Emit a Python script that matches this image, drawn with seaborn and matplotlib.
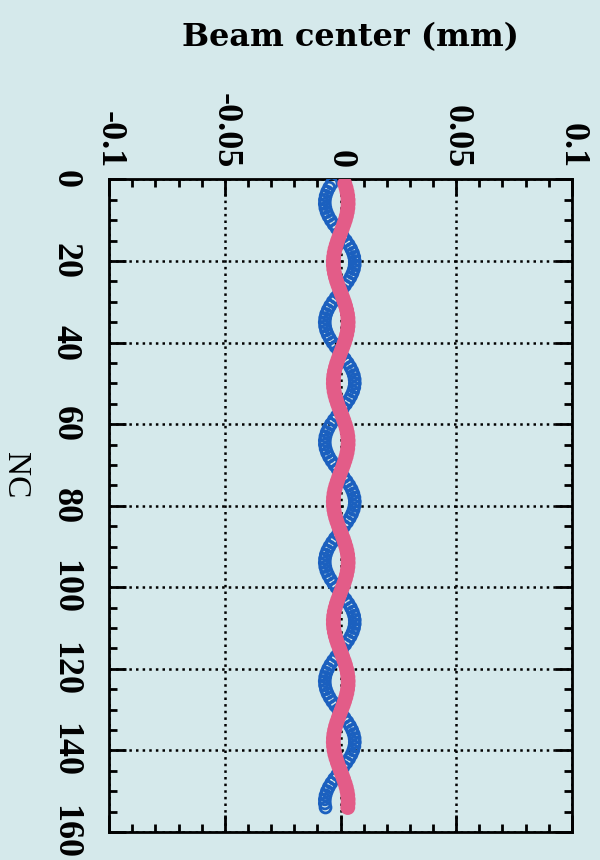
import matplotlib
matplotlib.use('Agg')
import matplotlib.pyplot as plt
import seaborn as sns
from matplotlib.ticker import MultipleLocator

# NC index and beam centre readings (mm) for the two series
nc = list(range(1, 155))

beam_blue = [
    -0.00383, -0.00491, -0.00578, -0.00640, -0.00674, -0.00678, -0.00653, -0.00600, -0.00521, -0.00419,
    -0.00300, -0.00168, -0.00031, 0.00108, 0.00240, 0.00359, 0.00461, 0.00540, 0.00593, 0.00618,
    0.00614, 0.00580, 0.00518, 0.00432, 0.00323, 0.00199, 0.00066, -0.00074, -0.00210, -0.00339,
    -0.00453, -0.00548, -0.00620, -0.00664, -0.00680, -0.00666, -0.00623, -0.00553, -0.00460, -0.00346,
    -0.00219, -0.00082, 0.00057, 0.00192, 0.00316, 0.00426, 0.00513, 0.00576, 0.00612, 0.00619,
    0.00596, 0.00544, 0.00466, 0.00366, 0.00247, 0.00116, -0.00022, -0.00160, -0.00292, -0.00413,
    -0.00516, -0.00596, -0.00651, -0.00677, -0.00675, -0.00642, -0.00582, -0.00497, -0.00390, -0.00267,
    -0.00133, 0.00006, 0.00143, 0.00272, 0.00387, 0.00484, 0.00556, 0.00602, 0.00620, 0.00608,
    0.00566, 0.00498, 0.00405, 0.00293, 0.00166, 0.00030, -0.00109, -0.00245, -0.00369, -0.00479,
    -0.00569, -0.00634, -0.00671, -0.00679, -0.00658, -0.00608, -0.00531, -0.00432, -0.00314, -0.00183,
    -0.00046, 0.00092, 0.00225, 0.00346, 0.00450, 0.00532, 0.00589, 0.00617, 0.00615, 0.00585,
    0.00526, 0.00443, 0.00337, 0.00214, 0.00081, -0.00058, -0.00195, -0.00324, -0.00441, -0.00538,
    -0.00613, -0.00661, -0.00680, -0.00669, -0.00629, -0.00562, -0.00471, -0.00360, -0.00233, -0.00098,
    0.00042, 0.00177, 0.00303, 0.00414, 0.00504, 0.00571, 0.00610, 0.00619, 0.00600, 0.00551,
    0.00476, 0.00378, 0.00261, 0.00131, -0.00006, -0.00144, -0.00278, -0.00400, -0.00505, -0.00588,
    -0.00646, -0.00676, -0.00677, -0.00648,
]

beam_pink = [
    0.00184, 0.00237, 0.00280, 0.00310, 0.00327, 0.00329, 0.00317, 0.00291, 0.00252, 0.00202,
    0.00143, 0.00078, 0.00010, -0.00058, -0.00123, -0.00181, -0.00232, -0.00271, -0.00297, -0.00309,
    -0.00307, -0.00290, -0.00260, -0.00217, -0.00164, -0.00103, -0.00037, 0.00031, 0.00099, 0.00162,
    0.00218, 0.00265, 0.00300, 0.00322, 0.00330, 0.00323, 0.00302, 0.00268, 0.00222, 0.00166,
    0.00103, 0.00036, -0.00033, -0.00099, -0.00161, -0.00214, -0.00258, -0.00289, -0.00306, -0.00309,
    -0.00298, -0.00273, -0.00234, -0.00185, -0.00126, -0.00062, 0.00006, 0.00074, 0.00139, 0.00198,
    0.00249, 0.00289, 0.00316, 0.00329, 0.00327, 0.00311, 0.00282, 0.00240, 0.00187, 0.00127,
    0.00061, -0.00008, -0.00075, -0.00138, -0.00195, -0.00243, -0.00279, -0.00301, -0.00310, -0.00304,
    -0.00283, -0.00250, -0.00204, -0.00149, -0.00086, -0.00019, 0.00049, 0.00116, 0.00177, 0.00231,
    0.00275, 0.00307, 0.00326, 0.00330, 0.00319, 0.00294, 0.00257, 0.00208, 0.00150, 0.00086,
    0.00018, -0.00050, -0.00115, -0.00175, -0.00226, -0.00267, -0.00295, -0.00308, -0.00308, -0.00293,
    -0.00264, -0.00223, -0.00170, -0.00110, -0.00044, 0.00024, 0.00091, 0.00155, 0.00212, 0.00260,
    0.00297, 0.00320, 0.00330, 0.00325, 0.00305, 0.00272, 0.00227, 0.00172, 0.00110, 0.00043,
    -0.00025, -0.00092, -0.00154, -0.00209, -0.00253, -0.00286, -0.00305, -0.00310, -0.00300, -0.00276,
    -0.00239, -0.00191, -0.00133, -0.00069, -0.00002, 0.00066, 0.00132, 0.00192, 0.00244, 0.00285,
    0.00313, 0.00328, 0.00328, 0.00314,
]

x_ticks = [-0.1, -0.05, 0, 0.05, 0.1]
x_tick_labels = ['-0.1', '-0.05', '0', '0.05', '0.1']
y_ticks = [0, 20, 40, 60, 80, 100, 120, 140, 160]

bg = '#d5e9eb'
blue = '#1b60bf'
pink = '#e35c88'

sns.set_theme(style='ticks')
plt.rcParams['font.family'] = ['Liberation Serif', 'DejaVu Serif']

fig = plt.figure(figsize=(6, 8.6), dpi=100, facecolor=bg)
ax = fig.add_axes([0.182, 0.0326, 0.771, 0.7587])
ax.set_facecolor(bg)

sns.scatterplot(x=beam_blue, y=nc, ax=ax, marker='o', s=62, facecolor='none',
                edgecolor=blue, linewidth=2.0, zorder=3)
sns.scatterplot(x=beam_pink, y=nc, ax=ax, marker='o', s=115, color=pink,
                edgecolor='none', linewidth=0, zorder=4)

ax.set_xlim(-0.1, 0.1)
ax.set_ylim(160, 0)
ax.set_xticks(x_ticks)
ax.set_xticklabels(x_tick_labels)
ax.xaxis.set_minor_locator(MultipleLocator(0.01))
ax.set_yticks(y_ticks)
ax.yaxis.set_minor_locator(MultipleLocator(5))
ax.xaxis.tick_top()

ax.set_axisbelow(True)
ax.grid(True, which='major', color='black', linestyle=':', linewidth=1.8)

for side in ax.spines.values():
    side.set_linewidth(2)
    side.set_color('black')

ax.tick_params(which='both', direction='in', top=True, bottom=True, left=True, right=True,
               color='black', width=2, labelcolor='black')
ax.tick_params(which='major', length=12)
ax.tick_params(which='minor', length=6)
ax.tick_params(axis='x', labeltop=True, labelbottom=False, pad=8)
ax.tick_params(axis='y', pad=20)

for lab in ax.get_xticklabels():
    lab.set(rotation=-90, ha='center', va='bottom', fontsize=26, fontweight='bold')
for lab in ax.get_yticklabels():
    lab.set(rotation=-90, ha='right', va='center', fontsize=26, fontweight='bold')

ax.set_xlabel('')
ax.set_ylabel('')

fig.text(15 / 600, 1 - 475 / 860, 'NC', rotation=-90, ha='center', va='center',
         fontsize=24, color='black')
fig.text(350 / 600, 1 - 38 / 860, 'Beam center (mm)', ha='center', va='center',
         fontsize=23, fontweight='bold', color='black', family='DejaVu Serif')

fig.savefig('out.png', dpi=100, facecolor=bg)
